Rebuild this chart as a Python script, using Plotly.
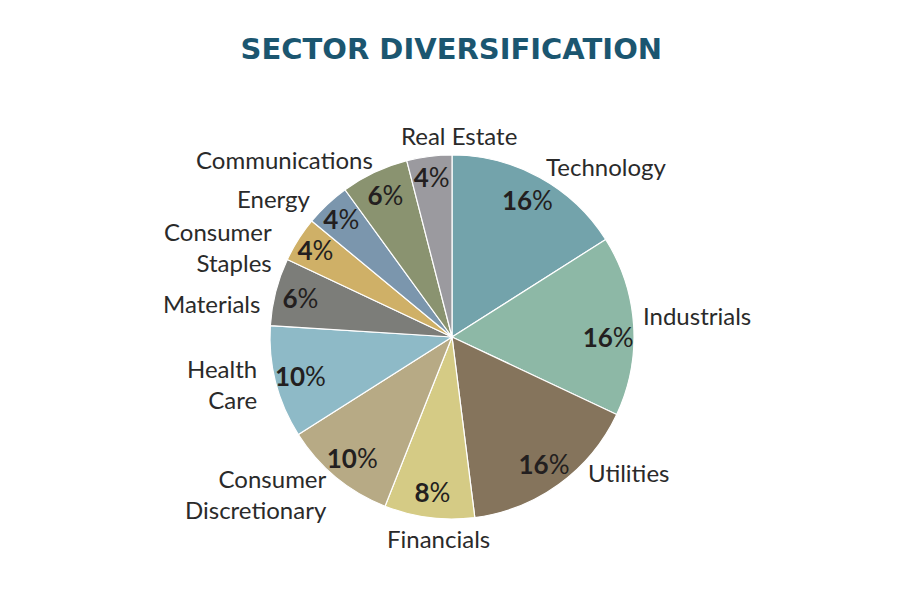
import plotly.graph_objects as go

# Dados do gráfico
sectors = ['Technology', 'Industrials', 'Utilities', 'Financials', 'Consumer Discretionary',
           'Health Care', 'Materials', 'Consumer Staples', 'Energy', 'Communications', 'Real Estate']
display_names = ['Technology', 'Industrials', 'Utilities', 'Financials', 'Consumer<br>Discretionary',
                 'Health<br>Care', 'Materials', 'Consumer<br>Staples', 'Energy', 'Communications', 'Real Estate']
weights = [16, 16, 16, 8, 10, 10, 6, 4, 4, 6, 4]
colors = ['#73A3AB', '#8DB8A6', '#85745C', '#D5CB85', '#B7AA85', '#8EBAC7',
          '#7C7D79', '#CFB067', '#7B96AD', '#8A9370', '#9B9A9F']

# posição dos rótulos (px a partir do canto superior esquerdo) e alinhamento
label_xy = [(544, 168), (641, 316), (586, 473), (438, 539), (329, 495), (259, 385),
            (262, 304), (274, 248), (313, 200), (375, 160), (459, 136)]
label_anchor = ['left', 'left', 'left', 'center', 'right', 'right',
                'right', 'right', 'right', 'right', 'center']

W, H = 901, 601
clear = ['rgba(0,0,0,0)'] * len(sectors)
dom = dict(x=[0.2908, 0.6948], y=[0.1496, 0.7556])
font = 'Lato'

fig = go.Figure()

# fatias coloridas
fig.add_trace(go.Pie(
    labels=sectors, values=weights, sort=False, direction='clockwise', rotation=0,
    marker=dict(colors=colors, line=dict(color='white', width=1.2)),
    textinfo='none', hoverinfo='label+value', domain=dom, showlegend=False,
))

# percentuais dentro, perto da borda
fig.add_trace(go.Pie(
    labels=sectors, values=weights, sort=False, direction='clockwise', rotation=0,
    hole=0.72, marker=dict(colors=clear, line=dict(width=0)),
    texttemplate='<b>%{value}</b>%', textposition='inside', insidetextorientation='horizontal',
    textfont=dict(family=font, size=26, color='#231F20'),
    hoverinfo='skip', domain=dom, showlegend=False,
))

# nomes dos setores
for name, (px_, py_), anc in zip(display_names, label_xy, label_anchor):
    fig.add_annotation(
        text=name, x=px_ / W, y=1 - py_ / H, xref='paper', yref='paper',
        xanchor=anc, yanchor='middle', align=anc, xshift=-8, yshift=9,
        showarrow=False, font=dict(family=font, size=24, color='#2A2A2A'),
    )

fig.update_layout(
    width=W, height=H,
    margin=dict(l=0, r=0, t=0, b=0),
    paper_bgcolor='white',
    uniformtext=dict(minsize=26, mode='show'),
    title=dict(text='<b>SECTOR DIVERSIFICATION</b>', x=0.492, xanchor='center', y=0.932, yanchor='middle',
               font=dict(family='DejaVu Sans', size=29, color='#1B5670')),
)

fig.write_html('out.html')
